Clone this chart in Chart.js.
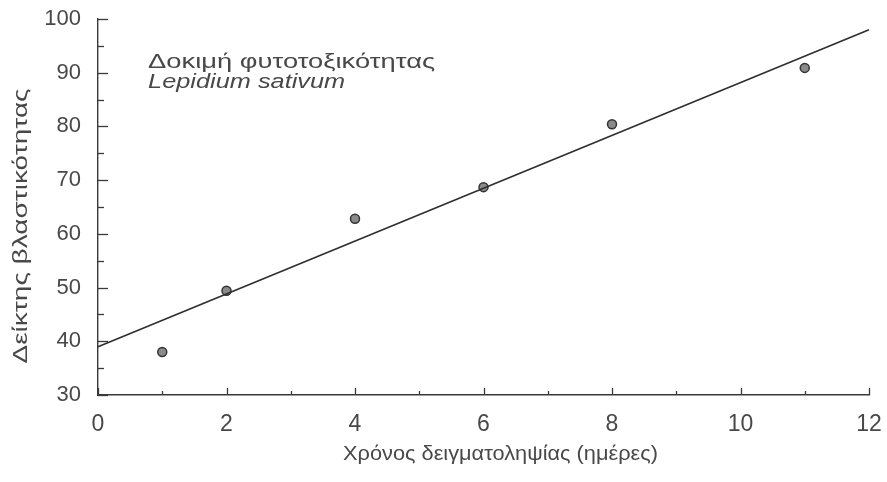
<!DOCTYPE html>
<html>
<head>
<meta charset="utf-8">
<script src="https://cdn.jsdelivr.net/npm/chart.js@4/dist/chart.umd.min.js"></script>
<style>
  html, body { margin: 0; padding: 0; background: #ffffff; }
  #wrap { width: 887px; height: 482px; }
</style>
</head>
<body>
<div id="wrap"><canvas id="chart" width="887" height="482"></canvas></div>
<script>
// Sampling day and germination index of the measured samples
const days = [1, 2, 4, 6, 8, 11];
const germinationIndex = [38, 49.4, 62.8, 68.7, 80.4, 90.9];

// Fitted straight line, given by its two end points
const fitDays = [0, 12];
const fitIndex = [39, 98];

// Axis ticks
const xTicks = [0, 2, 4, 6, 8, 10, 12];
const xMinorTicks = [1, 3, 5, 7, 9, 11];
const yTicks = [30, 40, 50, 60, 70, 80, 90, 100];
const yMinorTicks = [35, 45, 55, 65, 75, 85, 95];

// Text
const noteLines = ['Δοκιμή φυτοτοξικότητας', 'Lepidium sativum'];
const xTitle = 'Χρόνος δειγματοληψίας (ημέρες)';
const yTitle = 'Δείκτης βλαστικότητας';

const ink = '#3a3a3a';
const textInk = '#484848';
const fontFamily = '"Liberation Sans", Arial, sans-serif';

const pointData = days.map((d, i) => ({ x: d, y: germinationIndex[i] }));
const lineData = fitDays.map((d, i) => ({ x: d, y: fitIndex[i] }));

// Draws text stretched horizontally to a given width (the lettering is wide)
function wideText(ctx, text, x, y, width, align) {
  const natural = ctx.measureText(text).width;
  const sx = width / natural;
  ctx.save();
  ctx.translate(x, y);
  ctx.scale(sx, 1);
  ctx.textAlign = align;
  ctx.fillText(text, 0, 0);
  ctx.restore();
}

// Tick marks drawn inside the plot, axis titles and the note text
const decorations = {
  id: 'decorations',
  afterDraw(chart) {
    const { ctx, chartArea, scales: { x, y } } = chart;
    ctx.save();
    ctx.strokeStyle = ink;
    ctx.lineWidth = 1.3;
    const left = x.getPixelForValue(x.min);
    const bottom = y.getPixelForValue(y.min);
    yTicks.forEach(v => {
      const py = Math.round(y.getPixelForValue(v)) + 0.5;
      ctx.beginPath(); ctx.moveTo(left, py); ctx.lineTo(left + 10, py); ctx.stroke();
    });
    yMinorTicks.forEach(v => {
      const py = Math.round(y.getPixelForValue(v)) + 0.5;
      ctx.beginPath(); ctx.moveTo(left, py); ctx.lineTo(left + 6, py); ctx.stroke();
    });
    xTicks.forEach(v => {
      const px = Math.round(x.getPixelForValue(v)) + 0.5;
      ctx.beginPath(); ctx.moveTo(px, bottom); ctx.lineTo(px, bottom - 7); ctx.stroke();
    });
    xMinorTicks.forEach(v => {
      const px = Math.round(x.getPixelForValue(v)) + 0.5;
      ctx.beginPath(); ctx.moveTo(px, bottom); ctx.lineTo(px, bottom - 4); ctx.stroke();
    });

    ctx.fillStyle = textInk;
    ctx.textBaseline = 'middle';

    // Note in the upper left of the plot
    const nx = x.getPixelForValue(0.78);
    ctx.font = '20px ' + fontFamily;
    wideText(ctx, noteLines[0], nx, y.getPixelForValue(91.9), 287, 'left');
    ctx.font = 'italic 20px ' + fontFamily;
    wideText(ctx, noteLines[1], nx, y.getPixelForValue(88.2), 197, 'left');

    // Axis titles
    ctx.font = '20px ' + fontFamily;
    wideText(ctx, xTitle, (chartArea.left + chartArea.right) / 2 + 17, chartArea.bottom + 59, 315, 'center');
    ctx.save();
    ctx.translate(21, (chartArea.top + chartArea.bottom) / 2 + 19);
    ctx.rotate(-Math.PI / 2);
    wideText(ctx, yTitle, 0, 0, 275, 'center');
    ctx.restore();
    ctx.restore();
  }
};

new Chart(document.getElementById('chart'), {
  type: 'scatter',
  data: {
    datasets: [
      {
        label: 'fit',
        data: lineData,
        showLine: true,
        borderColor: '#2e2e2e',
        borderWidth: 1.6,
        pointRadius: 0,
        fill: false,
        clip: false
      },
      {
        label: 'samples',
        data: pointData,
        pointStyle: 'circle',
        pointRadius: 4.5,
        backgroundColor: '#8a8a8a',
        borderColor: '#333333',
        borderWidth: 1.5
      }
    ]
  },
  options: {
    responsive: false,
    animation: false,
    layout: { padding: { top: 19, right: 18, left: 0, bottom: 0 } },
    plugins: {
      legend: { display: false },
      tooltip: { enabled: false }
    },
    scales: {
      x: {
        type: 'linear',
        min: 0,
        max: 12,
        afterFit(scale) {
          scale.height = 87;
          scale.paddingLeft = 0;
          scale.paddingRight = 0;
        },
        afterBuildTicks(scale) { scale.ticks = xTicks.map(v => ({ value: v })); },
        border: { display: true, color: ink, width: 1.4 },
        grid: { display: false, drawTicks: false },
        ticks: {
          padding: 16,
          color: textInk,
          font: { family: fontFamily, size: 23 },
          maxRotation: 0
        },
        title: { display: false }
      },
      y: {
        type: 'linear',
        min: 30,
        max: 100,
        afterFit(scale) {
          scale.width = 98;
          scale.paddingTop = 0;
          scale.paddingBottom = 0;
        },
        afterBuildTicks(scale) { scale.ticks = yTicks.map(v => ({ value: v })); },
        border: { display: true, color: ink, width: 1.4 },
        grid: { display: false, drawTicks: false },
        ticks: {
          padding: 17,
          color: textInk,
          font: { family: fontFamily, size: 22 }
        },
        title: { display: false }
      }
    }
  },
  plugins: [decorations]
});
</script>
</body>
</html>
